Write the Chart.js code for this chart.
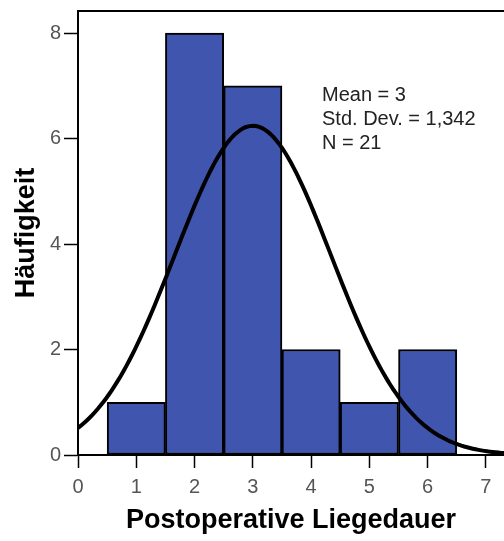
<!DOCTYPE html>
<html>
<head>
<meta charset="utf-8">
<script src="https://cdn.jsdelivr.net/npm/chart.js@4.4.1/dist/chart.umd.min.js"></script>
<style>
  html, body { margin: 0; padding: 0; background: #fff; }
  #wrap { width: 504px; height: 541px; }
</style>
</head>
<body>
<div id="wrap"><canvas id="histo" width="504" height="541"></canvas></div>
<script>
// Histogramm: Postoperative Liegedauer
const binMitte = [1, 2, 3, 4, 5, 6];
const haeufigkeit = [1, 8, 7, 2, 1, 2];
const xTicks = [0, 1, 2, 3, 4, 5, 6, 7];
const yTicks = [0, 2, 4, 6, 8];

// Kennwerte (aus der Legende)
const mittelwert = 3;
const stdAbw = 1.342;
const anzahl = 21;
const statText = ["Mean = 3", "Std. Dev. = 1,342", "N = 21"];

const X_MIN = 0, X_MAX = 7.31;
const Y_MIN = 0, Y_MAX = 8.42;

// Normalverteilungskurve mit Mittelwert/SD aus der Legende
const kurve = [];
for (let i = 0; i <= 150; i++) {
  const x = X_MIN + (X_MAX - X_MIN) * i / 150;
  const z = (x - mittelwert) / stdAbw;
  kurve.push({ x: x, y: anzahl * Math.exp(-0.5 * z * z) / (stdAbw * Math.sqrt(2 * Math.PI)) });
}

const rahmenPlugin = {
  id: "rahmen",
  afterDraw(chart) {
    const ctx = chart.ctx;
    const a = chart.chartArea;
    ctx.save();
    ctx.strokeStyle = "#000";
    ctx.lineWidth = 2;
    ctx.beginPath();
    ctx.moveTo(a.left - 1, a.top);
    ctx.lineTo(a.right, a.top);
    ctx.stroke();

    ctx.fillStyle = "#222";
    ctx.font = "20px 'Liberation Sans', Arial, sans-serif";
    ctx.textBaseline = "middle";
    statText.forEach((t, i) => ctx.fillText(t, a.left + 244, a.top + 84 + i * 24));
    ctx.restore();
  }
};

const tickFont = { family: "'Liberation Sans', Arial, sans-serif", size: 20 };
const titleFont = { family: "'Liberation Sans', Arial, sans-serif", size: 27, weight: "bold" };

new Chart(document.getElementById("histo"), {
  data: {
    datasets: [
      {
        type: "line",
        data: kurve,
        borderColor: "#000",
        borderWidth: 4,
        pointRadius: 0,
        tension: 0,
        fill: false,
        order: 0
      },
      {
        type: "bar",
        data: binMitte.map((x, i) => ({ x: x, y: haeufigkeit[i] })),
        backgroundColor: "#4056ae",
        borderColor: "#000",
        borderWidth: 2,
        borderSkipped: false,
        barPercentage: 1,
        categoryPercentage: 1,
        order: 1
      }
    ]
  },
  options: {
    responsive: false,
    animation: false,
    layout: { padding: { top: 11, right: 0, left: 0, bottom: 0 } },
    plugins: { legend: { display: false }, tooltip: { enabled: false } },
    scales: {
      x: {
        type: "linear",
        min: X_MIN,
        max: X_MAX,
        offset: false,
        afterBuildTicks: s => { s.ticks = xTicks.map(v => ({ value: v })); },
        afterFit: s => { s.height = 86; s.paddingLeft = 0; s.paddingRight = 0; },
        ticks: { color: "#555", font: tickFont, padding: 7, maxRotation: 0 },
        grid: { display: true, offset: false, drawOnChartArea: false, tickLength: 13, tickColor: "#000", tickWidth: 1.5 },
        border: { color: "#000", width: 2 },
        title: { display: true, text: "Postoperative Liegedauer", color: "#000", font: titleFont, padding: { top: 0, bottom: 4 } }
      },
      y: {
        type: "linear",
        min: Y_MIN,
        max: Y_MAX,
        afterBuildTicks: s => { s.ticks = yTicks.map(v => ({ value: v })); },
        afterFit: s => { s.width = 78; s.paddingTop = 0; s.paddingBottom = 0; },
        ticks: { color: "#555", font: tickFont, padding: 3 },
        grid: { display: true, drawOnChartArea: false, tickLength: 14, tickColor: "#000", tickWidth: 1.5 },
        border: { color: "#000", width: 2 },
        title: { display: true, text: "Häufigkeit", color: "#000", font: titleFont, padding: { top: 10, bottom: 0 } }
      }
    }
  },
  plugins: [rahmenPlugin]
});
</script>
</body>
</html>
